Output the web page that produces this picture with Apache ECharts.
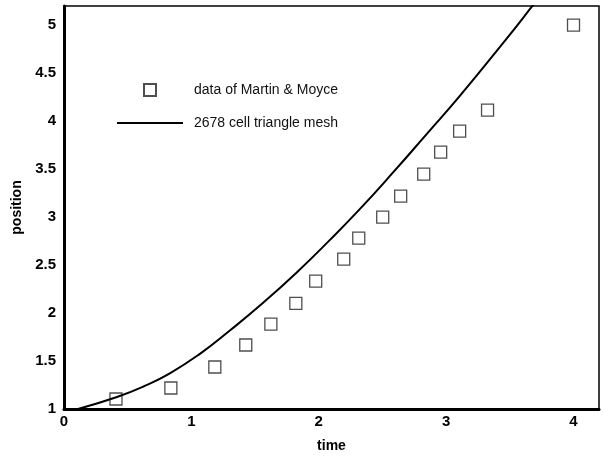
<!DOCTYPE html>
<html>
<head>
<meta charset="utf-8">
<script src="https://cdn.jsdelivr.net/npm/echarts@6/dist/echarts.min.js"></script>
<style>html,body{margin:0;padding:0;background:#fff;}#c{width:603px;height:458px;}</style>
</head>
<body>
<div id="c"></div>
<script>
var dataTime = [0.408, 0.839, 1.184, 1.427, 1.624, 1.82, 1.976, 2.196, 2.314, 2.502, 2.643, 2.824, 2.957, 3.106, 3.325, 4.0];
var dataPos  = [1.104, 1.219, 1.4375, 1.667, 1.885, 2.10, 2.333, 2.5625, 2.78, 3.0, 3.219, 3.448, 3.677, 3.896, 4.115, 5.0];
var meshTime = [0.11, 0.416, 0.62, 0.831, 1.067, 1.302, 1.561, 1.827, 2.086, 2.322, 2.58, 2.847, 3.106, 3.475, 3.671, 3.8];
var meshPos  = [1.0, 1.125, 1.232, 1.372, 1.575, 1.818, 2.104, 2.423, 2.76, 3.083, 3.46, 3.865, 4.26, 4.86, 5.19, 5.41];
var seriesNames = ['data of Martin & Moyce', '2678 cell triangle mesh'];

var font = 'Liberation Sans, Arial, sans-serif';
var chart = echarts.init(document.getElementById('c'));
chart.setOption({
  animation: false,
  backgroundColor: '#fff',
  grid: {left: 64, right: 4, top: 6, bottom: 48, show: true, borderColor: '#000', borderWidth: 1.5, backgroundColor: 'transparent'},
  legend: {
    orient: 'vertical', left: 116, top: 83, padding: 0,
    itemWidth: 66, itemHeight: 12, itemGap: 19,
    textStyle: {fontFamily: font, fontSize: 14, color: '#111', padding: [0, 0, 0, 6]},
    data: [
      {name: seriesNames[0], icon: 'path://M0,0H10V10H0Z'},
      {name: seriesNames[1], itemStyle: {opacity: 0}}
    ]
  },
  xAxis: {
    type: 'value', min: 0, max: 4.2, interval: 1,
    name: 'time', nameLocation: 'middle', nameGap: 30,
    nameTextStyle: {fontFamily: font, fontSize: 14, fontWeight: 'bold', color: '#000'},
    axisLine: {show: true, onZero: false, lineStyle: {color: '#000', width: 3}},
    axisTick: {show: false}, splitLine: {show: false},
    axisLabel: {fontFamily: font, fontSize: 15, fontWeight: 'bold', color: '#000', margin: 5, showMaxLabel: false}
  },
  yAxis: {
    type: 'value', min: 1, max: 5.2, interval: 0.5,
    name: 'position', nameLocation: 'middle', nameGap: 34,
    nameTextStyle: {fontFamily: font, fontSize: 14, fontWeight: 'bold', color: '#000'},
    axisLine: {show: true, onZero: false, lineStyle: {color: '#000', width: 3}},
    axisTick: {show: false}, splitLine: {show: false},
    axisLabel: {fontFamily: font, fontSize: 15, fontWeight: 'bold', color: '#000', margin: 8, showMaxLabel: false}
  },
  series: [
    {
      name: seriesNames[0], type: 'scatter', symbol: 'rect', symbolSize: 12,
      itemStyle: {color: '#fff', borderColor: '#222', borderWidth: 1.3},
      data: dataTime.map(function (t, i) { return [t, dataPos[i]]; })
    },
    {
      name: seriesNames[1], type: 'line', smooth: true, showSymbol: false, symbol: 'none', clip: true,
      itemStyle: {color: '#000'},
      lineStyle: {color: '#000', width: 2},
      data: meshTime.map(function (t, i) { return [t, meshPos[i]]; })
    }
  ]
});
</script>
</body>
</html>
